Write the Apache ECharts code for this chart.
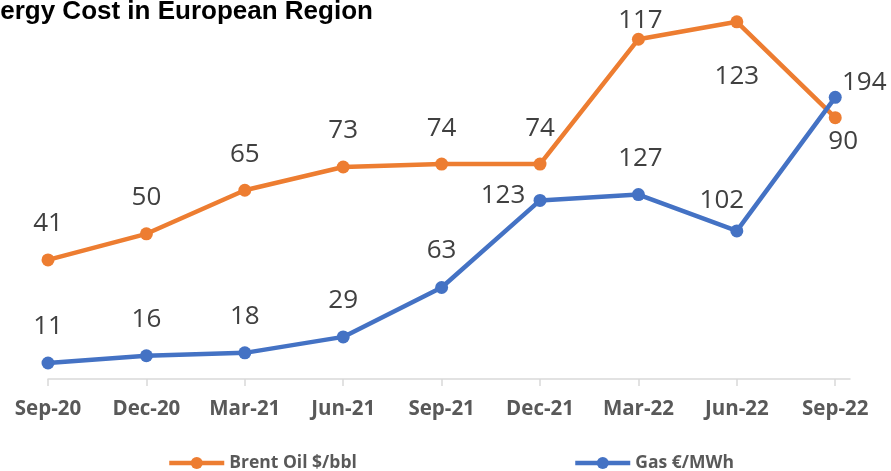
<!DOCTYPE html>
<html lang="en">
<head>
    <meta charset="UTF-8">
    <title>Energy Cost in European Region</title>
    <script src="https://cdn.jsdelivr.net/npm/echarts@6.0.0/dist/echarts.min.js"></script>
    <style>
        html, body { margin: 0; padding: 0; background: #fff; }
        #chart { width: 891px; height: 471px; }
    </style>
</head>
<body>
    <div id="chart"></div>
    <script>
        // data
        const quarters = ['Sep-20', 'Dec-20', 'Mar-21', 'Jun-21', 'Sep-21', 'Dec-21', 'Mar-22', 'Jun-22', 'Sep-22'];
        const brentOil = [41, 50, 65, 73, 74, 74, 117, 123, 90];
        const gas = [11, 16, 18, 29, 63, 123, 127, 102, 194];

        // label placement (px from the point)
        const brentLabelOffset = [[0, -36], [0, -36], [0, -36], [0, -36], [0, -36], [0, -36], [2, -19], [0, 55], [8, 24]];
        const gasLabelOffset = [[0, -36], [0, -36], [0, -36], [0, -36], [0, -37], [-37, -5], [2, -36], [-15, -30], [29, -15]];

        const ORANGE = '#ED7D31';
        const BLUE = '#4472C4';
        const FONT = '"Open Sans", "Noto Sans", sans-serif';

        function buildData(values, offsets) {
            return values.map((v, i) => ({
                value: [i, v],
                label: { offset: offsets[i] }
            }));
        }

        function lineSeries(name, color, yIndex, values, offsets) {
            return {
                name: name,
                type: 'line',
                yAxisIndex: yIndex,
                data: buildData(values, offsets),
                symbol: 'circle',
                symbolSize: 13,
                lineStyle: { color: color, width: 4.5 },
                itemStyle: { color: color },
                label: {
                    show: true,
                    position: 'inside',
                    formatter: p => p.value[1],
                    fontFamily: FONT,
                    fontSize: 26,
                    color: '#404040'
                },
                emphasis: { disabled: true }
            };
        }

        function legendFor(name, left) {
            return {
                data: [name],
                left: left,
                top: 454,
                padding: 0,
                itemWidth: 55,
                itemHeight: 15,
                itemGap: 5,
                lineStyle: { width: 4.5 },
                textStyle: { fontFamily: FONT, fontSize: 17.5, fontWeight: 'bold', color: '#595959' }
            };
        }

        const idx = quarters.map((q, i) => i);

        const chart = echarts.init(document.getElementById('chart'));
        chart.setOption({
            animation: false,
            title: {
                text: 'Energy Cost in European Region',
                left: -33,
                top: -1,
                padding: 0,
                textStyle: {
                    fontFamily: '"Liberation Sans", Arial, sans-serif',
                    fontWeight: 'bold',
                    fontSize: 26,
                    color: '#000'
                }
            },
            legend: [
                legendFor('Brent Oil $/bbl', 167),
                legendFor('Gas €/MWh', 573)
            ],
            grid: { left: 48, right: 41, top: 16, bottom: 92 },
            xAxis: {
                type: 'value',
                min: 0,
                max: 8.15,
                interval: 1,
                splitLine: { show: false },
                axisLine: { show: true, lineStyle: { color: '#d9d9d9', width: 1.5 } },
                axisTick: { show: true, length: 7, customValues: idx, lineStyle: { color: '#d9d9d9', width: 1.5 } },
                axisLabel: {
                    customValues: idx,
                    formatter: v => quarters[Math.round(v)],
                    margin: 20,
                    fontFamily: FONT,
                    fontSize: 20.5,
                    fontWeight: 'bold',
                    color: '#595959'
                }
            },
            yAxis: [
                { type: 'value', min: 0, max: 125, show: false, splitLine: { show: false } },
                { type: 'value', min: 0, max: 250, show: false, splitLine: { show: false } }
            ],
            series: [
                lineSeries('Brent Oil $/bbl', ORANGE, 0, brentOil, brentLabelOffset),
                lineSeries('Gas €/MWh', BLUE, 1, gas, gasLabelOffset)
            ]
        });
    </script>
</body>
</html>
